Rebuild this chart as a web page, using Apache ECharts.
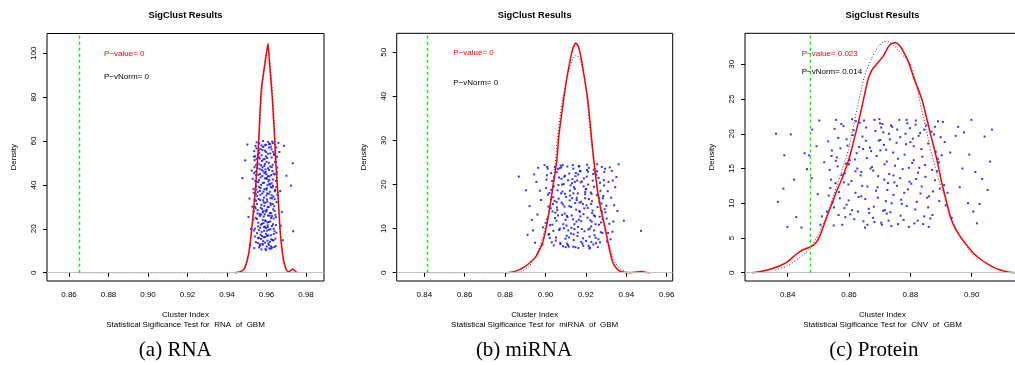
<!DOCTYPE html>
<html><head><meta charset="utf-8">
<script src="https://cdn.jsdelivr.net/npm/echarts@6/dist/echarts.min.js"></script>
<style>html,body{margin:0;padding:0;background:#fff}#c{width:1015px;height:365px;overflow:hidden}</style>
</head><body><div id="c"></div>
<script>
// ---------------- DATA ----------------
const panelTitles = ["SigClust Results", "SigClust Results", "SigClust Results"];
const xAxisTitles = ["Cluster Index\nStatistical Sigificance Test for  RNA  of  GBM",
                     "Cluster Index\nStatistical Sigificance Test for  miRNA  of  GBM",
                     "Cluster Index\nStatistical Sigificance Test for  CNV  of  GBM"];
const yAxisTitle = "Density";
const captions = ["(a) RNA", "(b) miRNA", "(c) Protein"];
const pValueTexts = ["P\u2212value= 0", "P\u2212value= 0", "P\u2212value= 0.023"];
const pNormTexts = ["P\u2212vNorm= 0", "P\u2212vNorm= 0", "P\u2212vNorm= 0.014"];

const xTicksRNA = [0.86, 0.88, 0.90, 0.92, 0.94, 0.96, 0.98];
const xTicksMiRNA = [0.84, 0.86, 0.88, 0.90, 0.92, 0.94, 0.96];
const xTicksProt = [0.84, 0.86, 0.88, 0.90];
const yTicksRNA = [0, 20, 40, 60, 80, 100];
const yTicksMiRNA = [0, 10, 20, 30, 40, 50];
const yTicksProt = [0, 5, 10, 15, 20, 25, 30];

// observed cluster index (green dashed line)
const critRNA = 0.865, critMiRNA = 0.8417, critProt = 0.8472;

// red: density of simulated cluster indices
const redRNA = [[0.9440,0],[0.9465,0.4],[0.9485,1.5],[0.9500,5],[0.9512,10],[0.9524,19],[0.9540,34],[0.9554,50],[0.9563,65],[0.9571,80],[0.9577,86],[0.9590,94],[0.9600,100],[0.9608,104.5],[0.9614,97],[0.9622,88],[0.9629,80],[0.9639,65],[0.9647,50],[0.9659,34],[0.9669,19],[0.9678,11],[0.9686,6],[0.9694,3],[0.9702,1.2],[0.9712,0.5],[0.9722,0.9],[0.9732,1.6],[0.9742,1.0],[0.9750,0.3],[0.9756,0]];
// dotted: normal-null density
const dotRNA = [[0.8650,0],[0.9440,0],[0.9470,0.5],[0.9490,2],[0.9505,6],[0.9518,13],[0.9530,22],[0.9543,36],[0.9556,52],[0.9568,70],[0.9580,86],[0.9594,98],[0.9605,102.5],[0.9615,98],[0.9627,86],[0.9637,72],[0.9646,57],[0.9656,40],[0.9666,24],[0.9676,12],[0.9686,5],[0.9696,2],[0.9706,0.5],[0.9716,0]];

const redMiRNA = [[0.8807,0],[0.8850,0.3],[0.8898,1.4],[0.8930,2.6],[0.8952,3.6],[0.8970,5.2],[0.8985,6.7],[0.9005,10.5],[0.9020,14.5],[0.9035,19],[0.9055,25],[0.9066,31],[0.9080,36],[0.9092,40],[0.9105,44],[0.9117,47],[0.9133,50.5],[0.9150,52.1],[0.9163,51.3],[0.9175,49],[0.9183,47],[0.9197,43],[0.9210,39],[0.9225,32],[0.9239,25.6],[0.9260,18],[0.9276,14],[0.9294,10.5],[0.9310,6.7],[0.9332,2.5],[0.9355,0.8],[0.9380,0.15],[0.9420,0],[0.9450,0.15],[0.9474,0.25],[0.9495,0.1],[0.9517,0]];
const dotMiRNA = [[0.8417,0],[0.8850,0],[0.8880,0.3],[0.8920,1.5],[0.8960,4.5],[0.8995,9.5],[0.9030,17],[0.9045,23],[0.9058,30],[0.9080,38],[0.9105,44],[0.9130,48],[0.9152,49.4],[0.9175,48],[0.9200,42],[0.9223,31],[0.9242,24],[0.9262,17],[0.9292,10],[0.9318,6],[0.9342,2.5],[0.9370,0.8],[0.9400,0.2],[0.9445,0]];

const redProt = [[0.8283,0],[0.8320,0.25],[0.8350,0.6],[0.8375,1.0],[0.8400,1.6],[0.8425,2.55],[0.8450,3.3],[0.8473,3.7],[0.8490,4.2],[0.8505,5.3],[0.8528,8.1],[0.8545,10],[0.8560,11.8],[0.8576,13.4],[0.8602,16.7],[0.8635,22.5],[0.8650,25.5],[0.8662,27.8],[0.8675,29.2],[0.8690,30],[0.8712,31.2],[0.8728,32.5],[0.8740,33],[0.8752,33.1],[0.8765,32.7],[0.8778,31.8],[0.8795,30.2],[0.8810,28.2],[0.8838,24.9],[0.8865,20.1],[0.8887,16.2],[0.8900,13.4],[0.8914,10.9],[0.8930,8.1],[0.8945,6.5],[0.8963,5.2],[0.8985,3.9],[0.9006,2.8],[0.9030,1.9],[0.9050,1.3],[0.9075,0.7],[0.9093,0.4],[0.9115,0.15],[0.9141,0]];
const dotProt = [[0.8360,0.4],[0.8400,1.0],[0.8440,2.2],[0.8473,3.5],[0.8500,5.5],[0.8530,8.5],[0.8560,12.5],[0.8598,17.7],[0.8625,23.4],[0.8650,28.2],[0.8673,30.8],[0.8695,32.5],[0.8715,33.3],[0.8730,33.2],[0.8750,32.5],[0.8775,31.3],[0.8799,30.2],[0.8820,27],[0.8837,23.4],[0.8857,19.5],[0.8875,16.2],[0.8895,13],[0.8915,10.5],[0.8935,7.7],[0.8960,5.3],[0.8985,3.7],[0.9010,2.3],[0.9025,1.7]];

// jittered simulated cluster indices (blue points)
const ptsRNA = [[0.9587,34.2],[0.9553,47.8],[0.9612,12.5],[0.9634,55.1],[0.9571,21.9],[0.9598,58.3],[0.9545,29.4],[0.9626,40.7],[0.9603,16.8],[0.9561,52.6],[0.9648,25.3],[0.9579,44.1],[0.9620,31.7],[0.9538,11.2],[0.9592,49.5],[0.9641,18.9],[0.9567,37.3],[0.9609,59.6],[0.9530,42.8],[0.9655,35.6],[0.9583,14.4],[0.9617,27.2],[0.9549,56.7],[0.9596,23.5],[0.9630,46.3],[0.9574,10.6],[0.9605,39.9],[0.9542,20.1],[0.9638,53.8],[0.9589,30.5],[0.9558,15.7],[0.9622,57.4],[0.9600,43.2],[0.9565,26.8],[0.9646,12.1],[0.9577,50.9],[0.9613,19.6],[0.9535,36.4],[0.9594,28.3],[0.9628,33.9],[0.9551,41.5],[0.9607,54.2],[0.9570,17.3],[0.9652,45.7],[0.9585,22.6],[0.9619,48.4],[0.9547,32.8],[0.9601,11.9],[0.9636,24.7],[0.9563,58.9],[0.9590,38.1],[0.9624,15.2],[0.9540,51.3],[0.9611,29.9],[0.9576,46.8],[0.9644,37.7],[0.9597,20.4],[0.9556,13.6],[0.9632,59.1],[0.9581,27.5],[0.9615,43.9],[0.9533,24.2],[0.9603,52.3],[0.9568,33.1],[0.9650,18.2],[0.9592,55.6],[0.9621,10.9],[0.9548,39.4],[0.9608,26.1],[0.9573,48.9],[0.9639,30.3],[0.9586,16.1],[0.9559,44.6],[0.9627,21.3],[0.9599,35.2],[0.9544,57.8],[0.9616,40.2],[0.9580,12.8],[0.9643,50.4],[0.9566,25.9],[0.9595,47.1],[0.9631,14.9],[0.9552,31.4],[0.9606,20.8],[0.9575,53.5],[0.9618,36.9],[0.9537,45.3],[0.9588,19.1],[0.9647,41.8],[0.9562,11.5],[0.9602,28.7],[0.9625,56.2],[0.9569,38.6],[0.9593,23.8],[0.9541,16.5],[0.9635,34.7],[0.9582,60.0],[0.9610,13.3],[0.9554,49.9],[0.9614,42.3],[0.9578,29.1],[0.9653,52.8],[0.9597,17.7],[0.9546,35.9],[0.9623,24.9],[0.9564,54.7],[0.9604,32.4],[0.9640,11.7],[0.9584,46.2],[0.9557,21.1],[0.9629,38.8],[0.9591,58.1],[0.9536,27.9],[0.9612,50.1],[0.9572,15.4],[0.9645,26.4],[0.9599,44.9],[0.9560,33.6],[0.9620,19.8],[0.9581,40.9],[0.9550,59.4],[0.9633,22.1],[0.9594,31.9],[0.9567,12.3],[0.9608,47.6],[0.9543,53.1],[0.9626,35.3],[0.9586,25.6],[0.9649,57.1],[0.9575,18.6],[0.9601,42.7],[0.9555,28.5],[0.9617,14.1],[0.9590,51.8],[0.9637,45.1],[0.9563,39.1],[0.9605,22.9],[0.9539,48.1],[0.9621,30.8],[0.9579,55.9],[0.9598,10.3],[0.9642,37.1],[0.9552,24.5],[0.9613,58.6],[0.9570,43.4],[0.9587,20.7],[0.9631,49.2],[0.9546,13.9],[0.9604,36.2],[0.9566,52.1],[0.9624,27.1],[0.9593,16.3],[0.9558,41.2],[0.9651,32.2],[0.9583,57.3],[0.9611,23.1],[0.9534,38.2],[0.9596,45.9],[0.9635,14.7],[0.9574,30.9],[0.9619,54.4],[0.9561,19.4],[0.9600,37.9],[0.9547,44.4],[0.9628,11.4],[0.9589,48.6],[0.9641,28.1],[0.9569,56.4],[0.9606,21.6],[0.9553,34.9],[0.9615,40.4],[0.9580,13.1],[0.9646,50.7],[0.9591,26.6],[0.9537,52.9],[0.9622,17.1],[0.9565,47.3],[0.9602,33.4],[0.9633,39.6],[0.9577,22.3],[0.9492,51.2],[0.9514,33.8],[0.9478,43.1],[0.9521,19.9],[0.9503,58.4],[0.9665,55.0],[0.9678,27.6],[0.9683,14.8],[0.9701,44.2],[0.9733,49.9],[0.9735,18.9],[0.9724,39.7],[0.9517,12.6],[0.9669,37.2],[0.9525,46.5],[0.9660,59.2],[0.9509,25.4],[0.9689,57.8],[0.9528,30.1],[0.9672,21.4],
[0.9556,36.8],[0.9619,23.4],[0.9584,51.6],[0.9642,44.8],[0.9571,29.6],[0.9605,14.6],[0.9538,55.4],[0.9627,48.1],[0.9595,10.8],[0.9562,42.2],[0.9648,21.7],[0.9579,36.1],[0.9612,57.0],[0.9545,25.0],[0.9631,31.3],[0.9590,45.4],[0.9566,13.0],[0.9622,39.0],[0.9599,27.8],[0.9550,51.9],[0.9637,17.6],[0.9583,33.0],[0.9610,41.6],[0.9541,30.0],[0.9654,47.9],[0.9575,58.0],[0.9603,19.2],[0.9558,22.8],[0.9626,52.5],[0.9588,41.0],[0.9615,11.1],[0.9544,46.0],[0.9634,28.9],[0.9569,35.5],[0.9597,53.0],[0.9552,18.0],[0.9620,34.0],[0.9581,24.0],[0.9645,15.5],[0.9564,49.4],[0.9607,44.0],[0.9536,19.3],[0.9629,59.8],[0.9593,13.7],[0.9573,40.0],[0.9616,26.0],[0.9548,37.9],[0.9639,54.0],[0.9586,32.0],[0.9560,56.0],[0.9611,35.9],[0.9578,16.7],[0.9632,42.5],[0.9554,27.0],[0.9600,50.5],[0.9623,12.0],[0.9567,45.0],[0.9591,21.0],[0.9543,41.9],[0.9650,39.0],[0.9580,48.0],[0.9606,30.0],[0.9561,16.0],[0.9618,58.7],[0.9585,37.0],[0.9539,33.3],[0.9636,20.0],[0.9598,55.0],[0.9572,26.5],[0.9613,46.8],[0.9557,54.0],[0.9628,25.8],[0.9592,43.0],[0.9568,20.5],[0.9641,33.5],[0.9546,49.0],[0.9609,17.0],[0.9583,28.0],[0.9624,44.5],[0.9601,38.5]];

const ptsMiRNA = [[0.9152,14.3],[0.9043,21.7],[0.9218,8.2],[0.9096,17.9],[0.9275,11.4],[0.9011,23.6],[0.9187,6.1],[0.9124,19.8],[0.9301,15.2],[0.9068,9.7],[0.9236,22.4],[0.9165,12.0],[0.9027,16.6],[0.9259,5.8],[0.9108,24.1],[0.9197,18.3],[0.9140,7.4],[0.9312,20.6],[0.9082,13.1],[0.9226,10.5],[0.9003,19.2],[0.9171,23.0],[0.9115,5.9],[0.9284,16.9],[0.9054,11.8],[0.9209,14.7],[0.9133,21.2],[0.9248,7.9],[0.9075,24.3],[0.9160,9.1],[0.9035,13.9],[0.9291,22.9],[0.9102,17.2],[0.9183,6.6],[0.9240,19.5],[0.9018,8.8],[0.9147,15.8],[0.9268,12.7],[0.9090,20.1],[0.9214,23.8],[0.9128,10.2],[0.9059,18.7],[0.9305,7.1],[0.9176,16.1],[0.9231,13.5],[0.9007,22.1],[0.9111,6.3],[0.9254,17.6],[0.9157,20.9],[0.9047,12.4],[0.9193,9.4],[0.9279,24.0],[0.9086,15.5],[0.9220,5.7],[0.9138,18.0],[0.9023,10.8],[0.9263,21.5],[0.9168,14.0],[0.9099,7.7],[0.9205,23.3],[0.9120,16.4],[0.9316,11.1],[0.9064,19.9],[0.9243,8.5],[0.9150,22.6],[0.9031,6.9],[0.9188,13.3],[0.9286,17.4],[0.9078,23.9],[0.9229,11.6],[0.9143,9.9],[0.9014,15.0],[0.9270,20.4],[0.9106,12.9],[0.9199,18.9],[0.9051,7.3],[0.9258,14.9],[0.9163,5.6],[0.9093,21.8],[0.9215,16.7],[0.9135,24.4],[0.9039,9.5],[0.9297,13.7],[0.9180,20.7],[0.9071,10.0],[0.9237,6.4],[0.9155,17.0],[0.9009,12.2],[0.9251,22.2],[0.9117,8.0],[0.9203,15.3],[0.9061,23.5],[0.9274,9.2],[0.9145,19.0],[0.9026,14.6],[0.9222,11.9],[0.9087,6.0],[0.9190,21.4],[0.9308,18.5],[0.9130,13.0],[0.9045,16.3],[0.9262,7.6],[0.9173,23.1],[0.9104,10.7],[0.9211,20.0],[0.9019,18.1],[0.9245,12.8],[0.9158,8.3],[0.9080,15.9],[0.9289,21.0],[0.9137,5.9],[0.9196,17.8],[0.9056,22.8],[0.9233,14.1],[0.9113,9.6],[0.9001,11.3],[0.9267,16.0],[0.9167,24.2],[0.9073,6.8],[0.9208,12.5],[0.9141,19.4],[0.9033,20.8],[0.9282,9.0],[0.9185,15.6],[0.9097,22.0],[0.9227,7.0],[0.9122,17.5],[0.9049,13.6],[0.9256,24.6],[0.9161,10.4],[0.9084,18.4],[0.9217,5.5],[0.9149,21.9],[0.9015,8.6],[0.9293,14.4],[0.9177,11.7],[0.9065,16.8],[0.9239,23.4],[0.9109,12.6],[0.9201,7.2],[0.9131,20.3],[0.9041,6.2],[0.9272,18.6],[0.9170,13.8],[0.9091,10.1],[0.9246,22.7],[0.9118,15.1],[0.9005,21.1],[0.9212,9.8],[0.9154,16.5],[0.9070,23.7],[0.9303,12.3],[0.9189,19.6],[0.9100,5.8],[0.9230,16.2],[0.9143,11.0],[0.9029,18.8],[0.9265,10.9],[0.9174,20.5],[0.9057,14.8],[0.9206,24.5],[0.9126,8.9],[0.9095,13.4],[0.9250,6.7],[0.9162,22.3],[0.9038,17.1],[0.9224,18.2],[0.9136,12.1],[0.9079,21.3],[0.9277,15.7],[0.8955,20.6],[0.8932,12.0],[0.8978,16.5],[0.8964,23.8],[0.8911,8.6],[0.8987,10.3],[0.8921,15.1],[0.8868,21.8],[0.8948,6.8],[0.8972,18.6],[0.8995,24.4],[0.8938,9.6],[0.9328,23.1],[0.9345,19.4],[0.9336,11.6],[0.9351,21.7],[0.9322,7.6],[0.9340,15.3],[0.9388,11.8],[0.9473,9.5],[0.9362,24.6],[0.9331,9.3],[0.8985,6.4],[0.9325,17.0],[0.8903,18.7],[0.9356,14.0],[0.8960,13.2],[0.9318,23.9],[0.8944,22.3],[0.9333,20.9],
[0.9112,21.0],[0.9180,9.9],[0.9055,16.0],[0.9240,13.0],[0.9138,23.6],[0.9021,7.9],[0.9201,19.0],[0.9088,11.0],[0.9270,6.9],[0.9160,18.0],[0.9046,24.0],[0.9226,15.6],[0.9105,8.4],[0.9290,19.8],[0.9172,12.8],[0.9067,21.6],[0.9213,6.1],[0.9127,14.9],[0.9012,17.7],[0.9255,23.0],[0.9148,5.8],[0.9082,20.0],[0.9196,16.9],[0.9034,10.9],[0.9279,13.9],[0.9118,22.5],[0.9186,7.8],[0.9058,14.2],[0.9234,20.9],[0.9099,12.0],[0.9310,9.0],[0.9165,24.1],[0.9041,19.6],[0.9219,10.0],[0.9132,16.9],[0.9074,6.5],[0.9264,17.0],[0.9153,11.6],[0.9008,24.0],[0.9204,21.8],[0.9094,15.0],[0.9248,11.0],[0.9177,7.0],[0.9062,13.0],[0.9295,23.6],[0.9121,18.6],[0.9028,22.6],[0.9192,14.6],[0.9085,24.4],[0.9241,9.6],[0.9145,20.6],[0.9052,8.0],[0.9228,17.9],[0.9107,6.6],[0.9283,12.1],[0.9169,15.9],[0.9037,15.6],[0.9210,22.9],[0.9139,8.7],[0.9077,18.0]];

const ptsProt = [[0.8731,14.2],[0.8612,19.8],[0.8845,8.1],[0.8567,11.6],[0.8790,21.5],[0.8683,7.3],[0.8902,16.9],[0.8755,18.7],[0.8541,13.4],[0.8821,10.2],[0.8649,21.9],[0.8717,9.0],[0.8869,20.3],[0.8590,15.7],[0.8803,12.8],[0.8672,17.5],[0.8528,8.8],[0.8764,22.0],[0.8631,10.9],[0.8887,14.6],[0.8702,19.1],[0.8578,6.9],[0.8836,17.8],[0.8745,11.2],[0.8619,16.3],[0.8915,9.7],[0.8695,13.9],[0.8553,20.7],[0.8778,7.6],[0.8660,12.4],[0.8852,21.2],[0.8723,16.0],[0.8604,8.4],[0.8811,18.2],[0.8537,14.8],[0.8770,10.5],[0.8644,19.6],[0.8896,12.1],[0.8709,21.4],[0.8585,9.3],[0.8829,15.1],[0.8738,6.7],[0.8625,17.2],[0.8877,19.9],[0.8688,11.8],[0.8560,16.6],[0.8797,13.1],[0.8666,8.6],[0.8906,21.7],[0.8750,15.4],[0.8598,12.7],[0.8842,7.0],[0.8714,18.4],[0.8546,10.1],[0.8784,20.0],[0.8638,14.0],[0.8861,11.0],[0.8699,22.1],[0.8572,17.9],[0.8816,9.1],[0.8727,12.9],[0.8615,20.5],[0.8893,15.9],[0.8678,7.9],[0.8532,18.9],[0.8767,13.6],[0.8653,10.6],[0.8858,18.6],[0.8741,21.0],[0.8592,9.8],[0.8825,14.4],[0.8705,7.2],[0.8563,15.3],[0.8781,17.0],[0.8635,21.6],[0.8910,12.6],[0.8690,16.8],[0.8550,6.8],[0.8808,19.3],[0.8720,10.3],[0.8608,13.2],[0.8872,8.3],[0.8760,16.4],[0.8582,21.1],[0.8833,11.4],[0.8668,18.0],[0.8539,12.2],[0.8795,6.6],[0.8712,20.2],[0.8627,15.0],[0.8883,17.4],[0.8735,8.7],[0.8595,18.3],[0.8849,13.8],[0.8681,9.5],[0.8558,22.0],[0.8775,14.9],[0.8647,7.4],[0.8899,19.5],[0.8725,11.9],[0.8602,16.2],[0.8817,21.3],[0.8693,12.3],[0.8570,10.7],[0.8786,18.5],[0.8656,20.9],[0.8865,7.8],[0.8748,13.0],[0.8621,11.5],[0.8839,16.7],[0.8707,6.9],[0.8544,17.6],[0.8772,9.9],[0.8640,14.5],[0.8890,21.8],[0.8716,15.6],[0.8588,8.0],[0.8827,19.7],[0.8744,17.3],[0.8610,22.1],[0.8855,10.8],[0.8675,15.2],[0.8534,11.1],[0.8799,20.8],[0.8729,7.5],[0.8633,18.1],[0.8880,13.3],[0.8697,19.0],[0.8576,14.1],[0.8813,7.1],[0.8757,20.6],[0.8664,9.2],[0.8848,15.5],[0.8721,17.7],[0.8599,10.4],[0.8792,12.0],[0.8658,16.5],[0.8912,18.8],[0.8701,21.5],[0.8551,9.4],[0.8832,20.1],[0.8739,10.0],[0.8617,7.7],[0.8874,11.7],[0.8686,20.4],[0.8565,19.4],[0.8806,15.8],[0.8733,19.2],[0.8643,12.5],[0.8860,6.6],[0.8768,8.2],[0.8586,14.3],[0.8819,13.5],[0.8711,8.9],[0.8622,21.8],[0.8894,10.3],[0.8679,14.7],[0.8557,16.1],[0.8788,22.0],[0.8652,6.5],[0.8362,20.0],[0.8389,16.9],[0.8410,19.9],[0.8368,10.2],[0.8386,12.1],[0.8421,13.4],[0.8428,8.0],[0.8399,6.6],[0.8445,6.5],[0.8455,17.2],[0.8463,14.9],[0.8470,16.9],[0.8480,20.6],[0.8503,21.9],[0.8494,18.2],[0.8512,8.1],[0.8498,11.3],[0.8519,15.9],[0.8478,13.6],[0.8507,6.9],[0.8975,20.2],[0.8992,17.0],[0.9005,8.8],[0.9026,9.9],[0.9052,11.9],[0.9066,20.6],[0.9042,19.6],[0.9012,14.5],[0.8961,12.3],[0.8948,19.7],[0.8988,10.0],[0.8930,17.3],[0.8921,11.5],[0.8956,21.0],[0.9017,7.1],[0.8935,7.9],[0.9060,16.0],[0.8970,15.0],[0.8999,22.0],[0.9034,13.5],
[0.8621,14.6],[0.8788,9.6],[0.8702,17.6],[0.8845,20.6],[0.8566,8.3],[0.8737,21.2],[0.8660,6.9],[0.8811,16.2],[0.8592,19.2],[0.8756,12.5],[0.8683,22.0],[0.8871,14.8],[0.8543,16.8],[0.8723,8.5],[0.8640,11.0],[0.8800,18.8],[0.8610,9.0],[0.8767,19.5],[0.8694,10.8],[0.8858,9.4],[0.8575,21.4],[0.8745,14.0],[0.8655,19.0],[0.8824,7.5],[0.8600,15.6],[0.8780,11.5],[0.8715,13.4],[0.8890,16.4],[0.8556,12.9],[0.8730,20.0],[0.8670,15.0],[0.8837,12.4],[0.8629,8.8],[0.8760,7.0],[0.8705,20.9],[0.8880,21.0],[0.8583,13.0],[0.8795,15.1],[0.8646,17.8],[0.8818,21.9]];

// ---------------- LAYOUT (pixels / axis ranges) ----------------
const layout = [
  {grid:{left:47, right:691, top:33.5, bottom:84}, xMin:0.84886, xMax:0.98911, yMin:-3.78, yMax:109.02,
   title:[185.5,15], cap:[175.3,350], ann:[104,53.3,77]},
  {grid:{left:396.7, right:342.3, top:33.3, bottom:84}, xMin:0.82634, xMax:0.96297, yMin:-1.88, yMax:54.31,
   title:[534.7,15], cap:[524,350], ann:[453.3,53,83]},
  {grid:{left:745, width:275, top:33.3, bottom:84}, xMin:0.82608, xMax:0.91575, yMin:-1.195, yMax:34.46,
   title:[882.5,15], cap:[873.8,350], ann:[801.7,53.3,72]}
];
const xTicks = [xTicksRNA, xTicksMiRNA, xTicksProt];
const yTicks = [yTicksRNA, yTicksMiRNA, yTicksProt];
const crits = [critRNA, critMiRNA, critProt];
const reds = [redRNA, redMiRNA, redProt];
const dots = [dotRNA, dotMiRNA, dotProt];
const pts = [ptsRNA, ptsMiRNA, ptsProt];

const FONT = "'Liberation Sans', Arial, Helvetica, sans-serif";
const grids = [], xAxes = [], yAxes = [], series = [], graphics = [];

layout.forEach((L, i) => {
  grids.push(Object.assign({show:true, borderColor:'#000', borderWidth:1, backgroundColor:'transparent',
    containLabel:false, outerBoundsMode:'none'}, L.grid));
  xAxes.push({
    type:'value', gridIndex:i, min:L.xMin, max:L.xMax,
    axisLine:{show:false}, splitLine:{show:false},
    axisTick:{show:true, length:4, customValues:xTicks[i], lineStyle:{color:'#000', width:1}},
    axisLabel:{customValues:xTicks[i], formatter:v => v.toFixed(2), fontFamily:FONT, fontSize:8, color:'#000', margin:10},
    name:xAxisTitles[i], nameLocation:'middle', nameGap:29,
    nameTextStyle:{fontFamily:FONT, fontSize:8, color:'#000', lineHeight:10}
  });
  yAxes.push({
    type:'value', gridIndex:i, min:L.yMin, max:L.yMax,
    axisLine:{show:false}, splitLine:{show:false},
    axisTick:{show:true, length:4, customValues:yTicks[i], lineStyle:{color:'#000', width:1}},
    axisLabel:{customValues:yTicks[i], rotate:90, fontFamily:FONT, fontSize:8, color:'#000', margin:9},
    name:yAxisTitle, nameLocation:'middle', nameGap:29, nameRotate:90,
    nameTextStyle:{fontFamily:FONT, fontSize:8, color:'#000'}
  });
  series.push({
    type:'scatter', xAxisIndex:i, yAxisIndex:i, data:pts[i], symbol:'rect', symbolSize:2,
    itemStyle:{color:'#0000ff'}, silent:true, z:1, large:false,
    markLine:{silent:true, symbol:['none','none'], label:{show:false},
      lineStyle:{color:'#bebebe', type:'solid', width:1}, data:[{yAxis:0}], animation:false}
  });
  series.push({
    type:'line', xAxisIndex:i, yAxisIndex:i, data:dots[i], showSymbol:false, smooth:0.2,
    lineStyle:{color:'#333', width:1, type:[1,2]}, silent:true, z:2
  });
  series.push({
    type:'line', xAxisIndex:i, yAxisIndex:i, data:reds[i], showSymbol:false, smooth:0.2,
    lineStyle:{color:'#ff0000', width:1.5}, silent:true, z:3,
    markLine:{silent:true, symbol:['none','none'], label:{show:false},
      lineStyle:{color:'#00ee00', type:[3,3], width:1.4},
      data:[[{coord:[crits[i], 0]}, {coord:[crits[i], L.yMax]}]], animation:false}
  });
  graphics.push({type:'text', x:L.title[0], y:L.title[1], style:{text:panelTitles[i], fill:'#000',
    font:"bold 9.3px " + FONT, textAlign:'center', textVerticalAlign:'middle'}});
  graphics.push({type:'text', x:L.cap[0], y:L.cap[1], style:{text:captions[i], fill:'#000',
    font:"21px 'Liberation Serif', 'Times New Roman', serif", textAlign:'center', textVerticalAlign:'middle'}});
  graphics.push({type:'text', x:L.ann[0], y:L.ann[1], style:{text:pValueTexts[i], fill:'#ff0000',
    font:"8px " + FONT, textAlign:'left', textVerticalAlign:'middle'}});
  graphics.push({type:'text', x:L.ann[0], y:L.ann[2], style:{text:pNormTexts[i], fill:'#000',
    font:"8px " + FONT, textAlign:'left', textVerticalAlign:'middle'}});
});

const chart = echarts.init(document.getElementById('c'), null, {renderer:'canvas'});
chart.setOption({
  animation:false, backgroundColor:'#fff',
  grid:grids, xAxis:xAxes, yAxis:yAxes, series:series, graphic:graphics
});
</script>
</body></html>
